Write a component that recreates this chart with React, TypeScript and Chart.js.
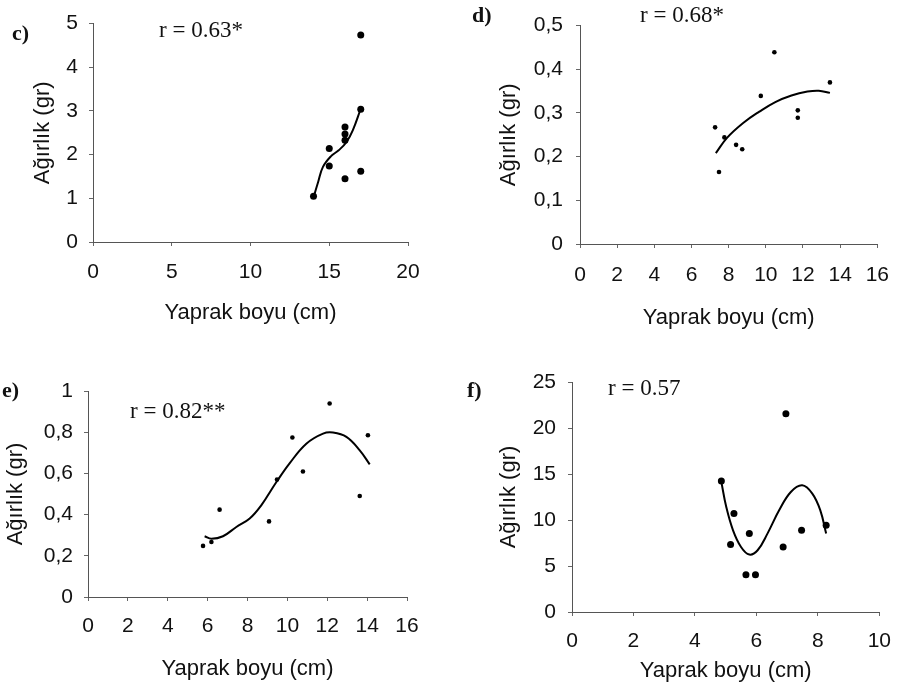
import React, { useEffect, useRef } from "react";
import { Chart, registerables } from "chart.js";

Chart.register(...registerables);

// ---------- Data ----------
// Panel c
const cX = [14, 15, 15, 16, 16, 16, 16, 17, 17, 17];
const cY = [1.05, 2.14, 1.74, 2.63, 2.47, 2.33, 1.45, 4.74, 3.04, 1.62];
const cTrendX = [14.05, 14.3, 14.6, 15.1, 15.6, 16.1, 16.5, 17.0];
const cTrendY = [1.08, 1.38, 1.72, 1.96, 2.1, 2.29, 2.56, 3.05];

// Panel d
const dX = [7.27, 7.48, 7.77, 8.4, 8.73, 9.73, 10.46, 11.72, 11.72, 13.45];
const dY = [0.267, 0.165, 0.244, 0.227, 0.217, 0.339, 0.439, 0.306, 0.289, 0.37];
const dTrendX = [7.31, 7.91, 8.78, 9.65, 10.51, 11.38, 12.24, 12.85, 13.45];
const dTrendY = [0.208, 0.243, 0.277, 0.303, 0.325, 0.34, 0.349, 0.351, 0.346];

// Panel e
const eX = [5.77, 6.19, 6.6, 9.08, 9.48, 10.25, 10.78, 12.12, 13.63, 14.04];
const eY = [0.248, 0.267, 0.424, 0.367, 0.57, 0.774, 0.609, 0.939, 0.49, 0.785];
const eTrendX = [5.85, 6.19, 6.77, 7.44, 8.11, 8.69, 9.45, 10.12, 10.95, 11.79, 12.29, 12.96, 13.63, 14.13];
const eTrendY = [0.295, 0.283, 0.295, 0.34, 0.381, 0.445, 0.558, 0.65, 0.744, 0.793, 0.798, 0.777, 0.712, 0.644];

// Panel f
const fX = [4.86, 5.27, 5.16, 5.77, 5.66, 5.97, 6.96, 6.87, 7.47, 8.27];
const fY = [14.24, 10.7, 7.33, 8.52, 4.06, 4.06, 21.56, 7.07, 8.88, 9.42];
const fTrendX = [4.86, 5.02, 5.24, 5.5, 5.77, 6.04, 6.36, 6.74, 7.12, 7.49, 7.82, 8.08, 8.27];
const fTrendY = [14.13, 11.41, 8.88, 7.07, 6.24, 6.71, 8.52, 11.05, 13.04, 13.77, 12.87, 11.05, 8.52];

// Axis ranges / tick steps
const cXAxis = [0, 20, 5];
const cYAxis = [0, 5, 1];
const dXAxis = [0, 16, 2];
const dYAxis = [0, 0.5, 0.1];
const eXAxis = [0, 16, 2];
const eYAxis = [0, 1, 0.2];
const fXAxis = [0, 10, 2];
const fYAxis = [0, 25, 5];

const X_TITLE = "Yaprak boyu (cm)";
const Y_TITLE = "Ağırlık (gr)";

const SANS = "'Liberation Sans', Arial, sans-serif";
const SERIF = "'Liberation Serif', 'Times New Roman', serif";

type Area = { left: number; top: number; right: number; bottom: number };

type PanelProps = {
  px: number;
  py: number;
  w: number;
  h: number;
  area: Area;
  xs: number[];
  ys: number[];
  txs: number[];
  tys: number[];
  xAxis: number[];
  yAxis: number[];
  comma: boolean;
  radius: number;
  yTickPad: number;
  xTickPad: number;
  yTitlePad: number;
  xTitlePad: number;
};

function Panel(p: PanelProps) {
  const ref = useRef<HTMLCanvasElement | null>(null);
  useEffect(() => {
    if (!ref.current) return;
    const pts = p.xs.map((x, i) => ({ x, y: p.ys[i] }));
    const trend = p.txs.map((x, i) => ({ x, y: p.tys[i] }));
    const fmt = (v: any) => {
      const n = Math.round(Number(v) * 100) / 100;
      const s = String(n);
      return p.comma ? s.replace(".", ",") : s;
    };
    const tickFont = { family: SANS, size: 21, lineHeight: 1.2 };
    const titleFont = { family: SANS, size: 22, lineHeight: 1.2 };
    const chart = new Chart(ref.current, {
      type: "scatter",
      data: {
        datasets: [
          {
            data: trend,
            showLine: true,
            borderColor: "#000",
            borderWidth: 2,
            pointRadius: 0,
            tension: 0.4,
            fill: false,
            order: 2,
          } as any,
          {
            data: pts,
            pointRadius: p.radius,
            pointBackgroundColor: "#000",
            pointBorderWidth: 0,
            showLine: false,
            order: 1,
          } as any,
        ],
      },
      options: {
        animation: false,
        responsive: false,
        maintainAspectRatio: false,
        events: [],
        layout: {
          padding: { left: 0, top: p.area.top, right: p.w - p.area.right, bottom: 0 },
        },
        plugins: {
          legend: { display: false },
          tooltip: { enabled: false },
        },
        scales: {
          x: {
            type: "linear",
            min: p.xAxis[0],
            max: p.xAxis[1],
            ticks: {
              stepSize: p.xAxis[2],
              autoSkip: false,
              maxRotation: 0,
              padding: p.xTickPad,
              color: "#111",
              font: tickFont,
              callback: fmt,
            },
            grid: {
              drawOnChartArea: false,
              drawTicks: true,
              tickLength: 4,
              color: "#666",
            },
            border: { display: true, color: "#555", width: 1 },
            title: {
              display: true,
              text: X_TITLE,
              color: "#111",
              font: titleFont,
              padding: { top: 0, bottom: p.xTitlePad },
            },
            afterFit: (s: any) => {
              s.height = p.h - p.area.bottom;
            },
          },
          y: {
            type: "linear",
            min: p.yAxis[0],
            max: p.yAxis[1],
            ticks: {
              stepSize: p.yAxis[2],
              autoSkip: false,
              padding: p.yTickPad,
              color: "#111",
              font: tickFont,
              callback: fmt,
            },
            grid: {
              drawOnChartArea: false,
              drawTicks: true,
              tickLength: 4,
              color: "#666",
            },
            border: { display: true, color: "#555", width: 1 },
            title: {
              display: true,
              text: Y_TITLE,
              color: "#111",
              font: titleFont,
              padding: { top: p.yTitlePad, bottom: 0 },
            },
            afterFit: (s: any) => {
              s.width = p.area.left;
            },
          },
        },
      } as any,
    });
    return () => chart.destroy();
  }, []);
  return (
    <canvas
      ref={ref}
      width={p.w}
      height={p.h}
      style={{ position: "absolute", left: p.px, top: p.py, width: p.w, height: p.h }}
    />
  );
}

function Label({ x, y, text, bold }: { x: number; y: number; text: string; bold?: boolean }) {
  return (
    <div
      style={{
        position: "absolute",
        left: x,
        top: y,
        fontFamily: SERIF,
        fontSize: bold ? 22 : 23,
        lineHeight: "22px",
        fontWeight: bold ? "bold" : "normal",
        color: "#111",
        whiteSpace: "nowrap",
      }}
    >
      {text}
    </div>
  );
}

export default function App() {
  return (
    <div
      style={{
        position: "absolute",
        left: 0,
        top: 0,
        width: 904,
        height: 688,
        background: "#fff",
        overflow: "hidden",
      }}
    >
      <Panel
        px={0} py={0} w={450} h={330}
        area={{ left: 93, top: 12, right: 408, bottom: 242 }}
        xs={cX} ys={cY} txs={cTrendX} tys={cTrendY}
        xAxis={cXAxis} yAxis={cYAxis} comma={false} radius={3.5}
        yTickPad={11} xTickPad={14} yTitlePad={30} xTitlePad={4}
      />
      <Panel
        px={450} py={0} w={454} h={332}
        area={{ left: 130, top: 20, right: 439, bottom: 244 }}
        xs={dX} ys={dY} txs={dTrendX} tys={dTrendY}
        xAxis={dXAxis} yAxis={dYAxis} comma={true} radius={2.3}
        yTickPad={13} xTickPad={15} yTitlePad={46} xTitlePad={1}
      />
      <Panel
        px={0} py={330} w={450} h={358}
        area={{ left: 88, top: 61, right: 407, bottom: 267 }}
        xs={eX} ys={eY} txs={eTrendX} tys={eTrendY}
        xAxis={eXAxis} yAxis={eYAxis} comma={true} radius={2.3}
        yTickPad={11} xTickPad={13} yTitlePad={3} xTitlePad={6}
      />
      <Panel
        px={450} py={330} w={454} h={358}
        area={{ left: 122, top: 52, right: 433, bottom: 282 }}
        xs={fX} ys={fY} txs={fTrendX} tys={fTrendY}
        xAxis={fXAxis} yAxis={fYAxis} comma={false} radius={3.5}
        yTickPad={12} xTickPad={13} yTitlePad={46} xTitlePad={4}
      />
      <Label x={12} y={22} text="c)" bold />
      <Label x={159} y={19} text="r = 0.63*" />
      <Label x={472} y={4} text="d)" bold />
      <Label x={640} y={4} text="r = 0.68*" />
      <Label x={2} y={379} text="e)" bold />
      <Label x={130} y={400} text="r = 0.82**" />
      <Label x={467} y={379} text="f)" bold />
      <Label x={608} y={377} text="r = 0.57" />
    </div>
  );
}
